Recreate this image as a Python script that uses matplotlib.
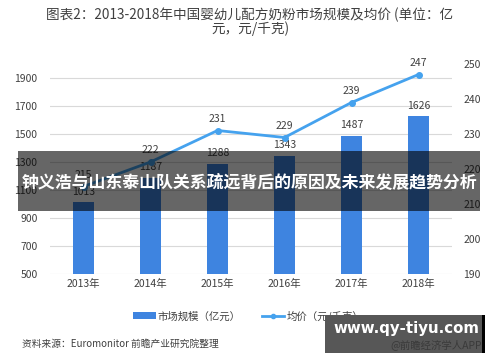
import matplotlib
matplotlib.use("Agg")
import matplotlib.pyplot as plt
from matplotlib.patches import Rectangle
from matplotlib.lines import Line2D
from matplotlib.patches import Patch

plt.rcParams['font.family'] = ['Noto Sans CJK SC', 'DejaVu Sans']

years = ['2013年', '2014年', '2015年', '2016年', '2017年', '2018年']
market_size = [1013, 1187, 1288, 1343, 1487, 1626]
avg_price = [215, 222, 231, 229, 239, 247]
left_ticks = [500, 700, 900, 1100, 1300, 1500, 1700, 1900]
right_ticks = [190, 200, 210, 220, 230, 240, 250]

title = '图表2：2013-2018年中国婴幼儿配方奶粉市场规模及均价 (单位：亿\n元，元/千克)'
bar_label = '市场规模（亿元）'
line_label = '均价（元/千克）'
source = '资料来源：Euromonitor 前瞻产业研究院整理'
banner = '钟义浩与山东泰山队关系疏远背后的原因及未来发展趋势分析'

bar_color = '#3E84E0'
line_color = '#45A2EE'
txt_color = '#404040'

W, H = 500, 362
fig = plt.figure(figsize=(5, 3.62), dpi=100)
fig.patch.set_facecolor('white')

ax = fig.add_axes([50 / W, 88 / H, 402 / W, 210 / H])
x = list(range(len(years)))
ax.bar(x, market_size, width=0.31, color=bar_color, zorder=2)
ax.set_ylim(500, 2000)
ax.set_xlim(-0.5, 5.5)
ax.set_yticks(left_ticks)
ax.grid(axis='y', color='#d9d9d9', linewidth=0.8, zorder=0)
for s in ax.spines.values():
    s.set_visible(False)
ax.tick_params(axis='both', length=0, labelsize=7.5, colors='#404040')
ax.tick_params(axis='y', pad=9)
ax.set_xticks(x)
ax.set_xticklabels(years)
for xi, v in zip(x, market_size):
    ax.annotate(str(v), (xi, v), xytext=(0, 4), textcoords='offset points',
                ha='center', va='bottom', fontsize=7.5, color=txt_color)

ax2 = ax.twinx()
ax2.plot(x, avg_price, color=line_color, linewidth=2, marker='o', markersize=4, zorder=3)
ax2.set_ylim(190, 250)
ax2.set_yticks(right_ticks)
for s in ax2.spines.values():
    s.set_visible(False)
ax2.tick_params(axis='y', length=0, labelsize=7.5, colors='#404040', pad=8)
for xi, v in zip(x, avg_price):
    ax2.annotate(str(v), (xi, v), xytext=(0, 5), textcoords='offset points',
                 ha='center', va='bottom', fontsize=7.5, color=txt_color)

fig.text(0.5, 1 - 22 / H, title, ha='center', va='center', fontsize=9.8,
         color=txt_color, linespacing=0.95)

handles = [Patch(facecolor=bar_color, label=bar_label),
           Line2D([0], [0], color=line_color, linewidth=2, marker='o', markersize=3, label=line_label)]
fig.legend(handles=handles, loc='center', bbox_to_anchor=(248 / W, 1 - 316 / H), ncol=2,
           frameon=False, fontsize=7.5, handlelength=2.2, handleheight=0.6,
           columnspacing=2.0, handletextpad=0.2, labelcolor=txt_color)

fig.text(22 / W, 1 - 344 / H, source, ha='left', va='center', fontsize=7, color=txt_color)

# overlay banner
fig.patches.append(Rectangle((18 / W, 1 - 211 / H), 462 / W, 60 / H, transform=fig.transFigure,
                             facecolor='black', alpha=0.6, edgecolor='none', zorder=10))
fig.text(249 / W, 1 - 183 / H, banner, ha='center', va='center', fontsize=12.2,
         color='white', fontweight='bold', zorder=11)

# watermark box
fig.patches.append(Rectangle((325 / W, 1 - 353 / H), 157 / W, 38 / H, transform=fig.transFigure,
                             facecolor='#575757', edgecolor='none', zorder=10))
fig.patches.append(Rectangle((482 / W, 1 - 353 / H), 3 / W, 38 / H, transform=fig.transFigure,
                             facecolor='black', edgecolor='none', zorder=10))
fig.text(482 / W, 1 - 345 / H, '@前瞻经济学人APP', ha='right', va='center', fontsize=7.5,
         color='#3a3a3a', zorder=11)
fig.text(406 / W, 1 - 329 / H, 'www.qy-tiyu.com', ha='center', va='center', fontsize=10.8,
         color='white', fontweight='bold', zorder=12, family=['DejaVu Sans'])

fig.savefig('out.png', dpi=100)
